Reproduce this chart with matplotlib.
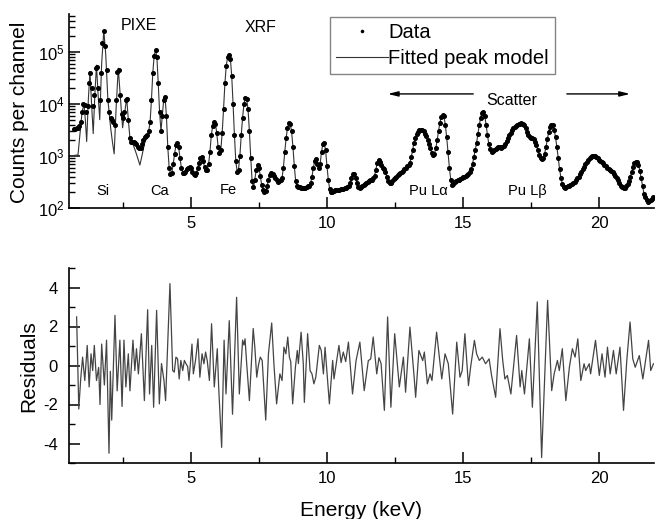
import numpy as np
import matplotlib
matplotlib.use("Agg")
import matplotlib.pyplot as plt
from matplotlib.ticker import LogLocator, MultipleLocator, NullFormatter

plt.rcParams['font.family'] = ['Liberation Sans', 'DejaVu Sans']
plt.rcParams['axes.unicode_minus'] = False
plt.rcParams['mathtext.default'] = 'regular'

# energy channels (keV), 0.05 keV steps from 0.70 to 22.00
energy = np.arange(14, 441) / 20.0
counts = [
    3300, 3300, 3400, 3500, 3700, 4500,
    7000, 10000, 9500, 7000, 9000, 25000, 40000, 20000, 9000, 15000,
    50000, 52000, 20000, 12000, 40000, 150000, 250000, 130000, 45000, 12000,
    7000, 5500, 5000, 4500, 4000, 12000, 42000, 45000, 15000, 6500,
    5500, 7000, 12000, 12500, 5000, 2200, 1900, 1900, 1900, 1800,
    1700, 1500, 1400, 1450, 1700, 2000, 2300, 2400, 2500, 3000,
    4500, 12000, 40000, 85000, 110000, 80000, 25000, 7000, 3000, 6000,
    12000, 13500, 6000, 1500, 600, 450, 480, 700, 1100, 1600,
    1800, 1500, 900, 600, 480, 470, 500, 560, 600, 610,
    580, 500, 460, 440, 470, 580, 750, 920, 960, 800,
    620, 530, 530, 700, 1200, 2500, 3800, 4500, 4200, 2800,
    1500, 1150, 1300, 2800, 8000, 25000, 55000, 80000, 87000, 75000,
    35000, 10000, 2500, 800, 500, 550, 1000, 2500, 5500, 10000,
    13000, 12500, 8000, 3000, 900, 330, 250, 350, 550, 670,
    600, 420, 280, 220, 200, 210, 260, 350, 440, 470,
    460, 420, 370, 340, 320, 330, 340, 380, 600, 1200,
    2200, 3500, 4300, 4200, 3000, 1500, 650, 330, 260, 250,
    250, 240, 240, 240, 240, 250, 260, 270, 300, 400,
    600, 800, 880, 700, 580, 700, 1200, 1700, 1750, 1300,
    650, 350, 230, 200, 205, 215, 220, 225, 220, 225,
    230, 235, 230, 240, 245, 250, 260, 300, 380, 460,
    450, 380, 300, 250, 240, 250, 265, 280, 290, 300,
    310, 330, 340, 350, 370, 420, 550, 750, 840, 780,
    680, 600, 570, 500, 400, 330, 300, 300, 330, 360,
    380, 400, 430, 460, 470, 490, 520, 560, 600, 630,
    660, 750, 950, 1300, 1800, 2200, 2600, 2900, 3100, 3200,
    3150, 3000, 2700, 2400, 2000, 1700, 1400, 1150, 1050, 1100,
    1400, 2000, 3000, 4300, 5600, 6200, 5800, 4000, 2300, 1200,
    600, 350, 280, 290, 310, 330, 340, 350, 360, 380,
    390, 400, 410, 430, 450, 500, 560, 700, 950, 1300,
    1800, 2700, 4000, 5500, 6800, 7000, 5800, 4000, 2500, 1700,
    1350, 1200, 1250, 1300, 1350, 1450, 1500, 1500, 1450, 1480,
    1550, 1700, 1950, 2200, 2500, 2800, 3100, 3400, 3600, 3800,
    3900, 4100, 4200, 4300, 4200, 3900, 3400, 2900, 2500, 2300,
    2200, 2200, 2100, 1900, 1600, 1300, 1050, 900, 870, 920,
    1100, 1500, 2100, 2900, 3600, 4000, 3900, 3200, 2300, 1500,
    900, 560, 380, 290, 250, 240, 250, 260, 270, 280,
    290, 300, 320, 340, 370, 400, 450, 500, 560, 620,
    690, 760, 830, 900, 950, 990, 1000, 990, 950, 900,
    850, 800, 760, 720, 680, 640, 600, 570, 550, 520,
    490, 460, 420, 380, 340, 300, 270, 250, 240, 245,
    260, 290, 330, 400, 500, 620, 730, 780, 780, 680,
    520, 370, 260, 190, 160, 140, 130, 135, 140, 150,
    165,
]

# fitted model where it departs from the data (low energies)
fit_e_low = [0.55, 0.85, 0.92, 1.0, 1.07, 1.12, 1.17, 1.23, 1.29, 1.35, 1.41,
             1.47, 1.53, 1.59, 1.65, 1.72, 1.80, 1.87, 1.95, 2.05, 2.12, 2.18,
             2.25, 2.33, 2.40, 2.49, 2.57, 2.64, 2.70, 2.76, 2.85, 2.95, 3.05,
             3.125, 3.2, 3.3, 3.4]
fit_c_low = [1000, 1050, 2500, 7000, 10000, 5000, 1900, 12000, 42000, 10000, 2700,
             15000, 56000, 15000, 5000, 60000, 260000, 90000, 12000, 3500, 1800, 1100,
             8000, 49000, 15000, 3500, 7000, 13000, 5000, 2200, 1800, 1300, 900,
             670, 1000, 1800, 2400]

res_e = [0.80, 0.88, 0.95, 1.02, 1.10, 1.19, 1.26, 1.33, 1.39, 1.45, 1.53, 1.61,
         1.66, 1.72, 1.82, 1.90, 1.99, 2.04, 2.09, 2.21, 2.29, 2.39, 2.47, 2.54,
         2.61, 2.70, 2.76, 2.87, 2.94, 3.00, 3.07, 3.18, 3.29, 3.41, 3.48, 3.56,
         3.63, 3.74, 3.84, 3.92, 4.01, 4.07, 4.23, 4.33, 4.39, 4.45, 4.51, 4.57,
         4.63, 4.70, 4.76, 4.82, 4.88, 4.93, 5.04, 5.09, 5.17, 5.26, 5.33, 5.41,
         5.48, 5.54, 5.60, 5.68, 5.76, 5.86, 5.97, 6.02, 6.13, 6.22, 6.29, 6.41,
         6.53, 6.68, 6.78, 6.90, 6.95, 6.99, 7.05, 7.15, 7.29, 7.35, 7.42, 7.48,
         7.55, 7.62, 7.75, 7.85, 7.97, 8.05, 8.15, 8.27, 8.35, 8.42, 8.49, 8.56,
         8.62, 8.67, 8.74, 8.84, 8.91, 8.95, 9.05, 9.13, 9.17, 9.29, 9.38, 9.45,
         9.52, 9.59, 9.72, 9.79, 9.87, 9.93, 10.09, 10.21, 10.26, 10.44, 10.52,
         10.60, 10.69, 10.79, 10.94, 11.07, 11.21, 11.37, 11.52, 11.61, 11.70,
         11.83, 11.91, 11.99, 12.11, 12.23, 12.35, 12.49, 12.66, 12.81, 12.89,
         13.05, 13.20, 13.26, 13.38, 13.52, 13.58, 13.69, 13.79, 13.86, 14.03,
         14.22, 14.34, 14.46, 14.62, 14.77, 14.89, 14.97, 15.07, 15.20, 15.28,
         15.42, 15.50, 15.60, 15.71, 15.83, 15.96, 16.05, 16.20, 16.36, 16.46,
         16.54, 16.63, 16.76, 16.97, 17.10, 17.16, 17.26, 17.44, 17.55, 17.73,
         17.89, 18.11, 18.26, 18.35, 18.47, 18.54, 18.65, 18.78, 18.91, 19.02,
         19.12, 19.22, 19.33, 19.45, 19.51, 19.64, 19.69, 19.87, 20.01, 20.11,
         20.22, 20.31, 20.41, 20.53, 20.63, 20.77, 20.90, 21.02, 21.14, 21.24,
         21.33, 21.48, 21.61, 21.82, 21.90, 22.00]
res_r = [2.49, -2.23, -0.69, 0.43, -0.77, 1.03, -1.10, 0.60, -0.26, 1.03, -0.77, -0.10,
         -2.00, 1.10, -1.00, 1.30, -4.50, -0.30, -2.80, 2.57, -1.30, 1.30, -2.10, 1.30,
         -1.10, 0.60, -1.30, 1.30, -0.26, 0.86, -0.43, 1.63, -1.80, 2.86, -1.46, 1.03,
         -2.14, 2.83, -1.97, 0.10, -0.77, -1.80, 4.20, -0.26, -0.34, 0.43, 0.34, -0.69,
         0.26, -0.26, 0.26, 0.09, -0.05, -0.77, 1.10, -0.43, 0.26, 1.37, -0.60, 0.60,
         0.09, 0.69, 0.25, -0.77, 2.14, -1.10, 0.86, -1.10, -4.20, 1.30, -1.46, 2.30,
         -2.50, 3.50, -1.46, 1.30, 1.05, 1.37, 0.10, -1.80, 1.90, 0.94, -0.60, 0.00,
         0.43, 0.26, -2.80, 0.60, 2.18, 0.10, -1.97, -0.43, -0.77, 0.94, 0.60, 1.46,
         0.43, 0.20, -1.97, -0.10, 0.77, 0.10, 1.71, 0.10, -1.89, 1.63, -0.26, -0.43,
         -0.94, -0.60, 1.03, 0.77, -0.43, 0.94, -1.97, 0.26, -0.69, 1.03, 0.15,
         0.69, 0.20, 1.20, -1.46, 0.25, 1.20, -1.29, 0.25, 0.34, 1.46,
         -0.43, 0.40, 0.10, -2.30, 2.49, -2.14, 1.63, -1.10, 0.43, -1.37,
         1.97, -0.51, -1.63, 0.77, 0.25, 0.69, -0.94, -0.43, -0.77, 1.71,
         -0.69, 0.60, 0.09, -2.49, 1.20, -0.60, -0.26, 1.63, -1.03, -0.09,
         1.29, 0.60, 0.26, 0.43, 0.09, 0.34, -0.51, -1.63, 1.89, 0.26,
         -0.69, -0.51, -1.46, 1.54, -1.10, -0.26, -1.46, 1.37, -2.14, 3.26,
         -4.72, 3.34, -1.29, -0.43, 0.26, -0.26, 0.86, -1.80, -0.09, 0.86,
         0.43, 1.37, -0.77, 0.09, -0.26, 0.09, -0.43, 1.29, -0.51, 0.60,
         -0.60, 0.94, -0.43, 0.77, -0.43, 0.94, -2.30, 0.26, 2.23, 0.34,
         -0.09, 0.51, -0.69, 1.29, -0.26, 0.09]

counts = np.array(counts)
keep = energy > 3.42
fit_e = np.concatenate([fit_e_low, energy[keep]])
fit_c = np.concatenate([fit_c_low, counts[keep]])

fig = plt.figure(figsize=(6.57, 5.19), dpi=100)
ax1 = fig.add_axes([69/657, 1-208/519, 585/657, 194/519])
ax2 = fig.add_axes([69/657, 1-463/519, 585/657, 195/519])

ax1.plot(fit_e, fit_c, color='#333333', lw=0.8, label='Fitted peak model')
ax1.plot(energy, counts, ls='none', marker='o', ms=2.6, color='black', label='Data')
ax1.set_yscale('log')
ax1.set_ylim(100, 5.4e5)
ax1.yaxis.set_minor_locator(LogLocator(base=10, subs=np.arange(2, 10)))
ax1.yaxis.set_minor_formatter(NullFormatter())

ax2.plot(res_e, res_r, color='#444444', lw=0.9)
ax2.set_ylim(-5, 5)
ax2.yaxis.set_major_locator(MultipleLocator(2))
ax2.yaxis.set_minor_locator(MultipleLocator(1))

for ax in (ax1, ax2):
    ax.set_xlim(0.52, 22.02)
    ax.xaxis.set_major_locator(MultipleLocator(5))
    ax.xaxis.set_minor_locator(MultipleLocator(2.5))
    ax.spines['top'].set_visible(False)
    ax.spines['right'].set_visible(False)
    for s in ('left', 'bottom'):
        ax.spines[s].set_linewidth(1.2)
    ax.tick_params(which='major', direction='in', length=8, width=1.1, labelsize=12)
    ax.tick_params(which='minor', direction='in', length=4, width=1.0)
    ax.tick_params(axis='x', which='major', pad=6)
ax1.tick_params(axis='y', which='major', pad=3)
ax2.tick_params(axis='y', which='major', pad=8)

handles, labels = ax1.get_legend_handles_labels()
leg = ax1.legend(handles[::-1], labels[::-1], loc='upper left',
                 bbox_to_anchor=(330/657, 1-17/519), bbox_transform=fig.transFigure,
                 fontsize=14.5, frameon=True, fancybox=False, handlelength=2.6,
                 handletextpad=0.0, borderpad=0.3, labelspacing=0.35,
                 borderaxespad=0, markerscale=0.6)
leg.get_frame().set_edgecolor('#666666')
leg.get_frame().set_linewidth(1.0)

ax1.text(0.1197, 0.943, 'PIXE', transform=ax1.transAxes, ha='center', va='center', fontsize=11.5)
ax1.text(0.328, 0.928, 'XRF', transform=ax1.transAxes, ha='center', va='center', fontsize=11.5)
ax1.text(0.757, 0.552, 'Scatter', transform=ax1.transAxes, ha='center', va='center', fontsize=11.5)
for txt, xf, yf in [('Si', 0.058, 0.088), ('Ca', 0.154, 0.088), ('Fe', 0.272, 0.093),
                    ('Pu L\u03b1', 0.615, 0.088), ('Pu L\u03b2', 0.783, 0.088)]:
    ax1.text(xf, yf, txt, transform=ax1.transAxes, ha='center', va='center', fontsize=10.5)

arrow = dict(arrowstyle='-|>,head_length=0.6,head_width=0.15', color='black', lw=1.0,
             shrinkA=0, shrinkB=0)
ax1.annotate('', xy=(0.545, 0.588), xytext=(0.691, 0.588),
             xycoords='axes fraction', textcoords='axes fraction', arrowprops=arrow)
ax1.annotate('', xy=(0.959, 0.588), xytext=(0.851, 0.588),
             xycoords='axes fraction', textcoords='axes fraction', arrowprops=arrow)

fig.text(19.5/657, 1-112.5/519, 'Counts per channel', rotation=90,
         ha='center', va='center', fontsize=15)
fig.text(29/657, 1-366/519, 'Residuals', rotation=90,
         ha='center', va='center', fontsize=15)
fig.text(361/657, 1-516/519, 'Energy (keV)', ha='center', va='baseline', fontsize=15)

fig.savefig('out.png', dpi=100)
